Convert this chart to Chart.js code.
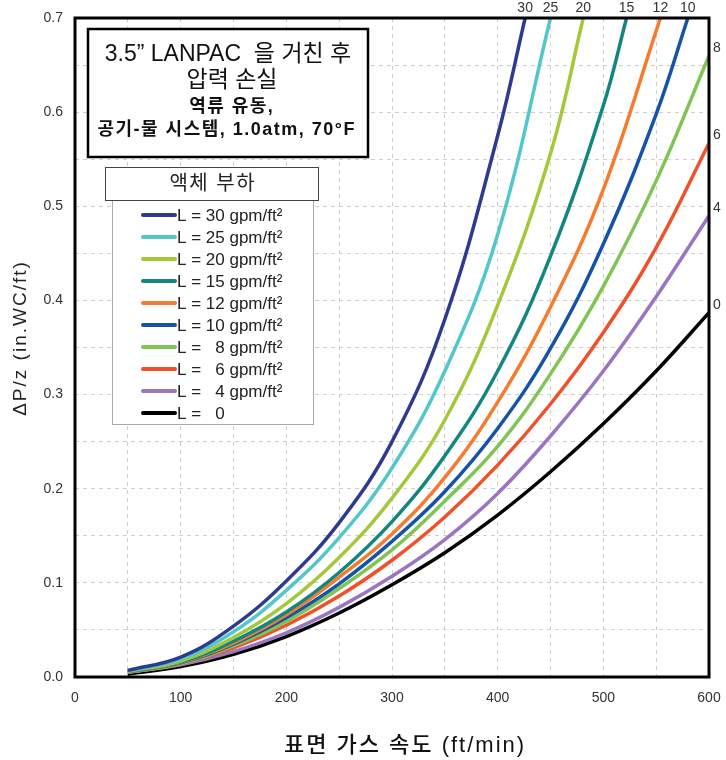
<!DOCTYPE html>
<html>
<head>
<meta charset="utf-8">
<script src="https://cdn.jsdelivr.net/npm/chart.js@4.4.0/dist/chart.umd.min.js"></script>
<style>
  html, body { margin: 0; padding: 0; background: #fff; }
  #wrap { width: 726px; height: 760px; }
</style>
</head>
<body>
<div id="wrap"><canvas id="dpChart" width="726" height="760"></canvas></div>
<script>
// gas velocity grid (ft/min)
const velocity = [50, 100, 150, 200, 250, 300, 350, 400, 450, 500, 550, 600];

// pressure drop (in.WC/ft) per liquid load
const dp30 = [0.007, 0.021, 0.054, 0.102, 0.164, 0.250, 0.380, 0.575];
const dp25 = [0.0065, 0.019, 0.048, 0.092, 0.148, 0.222, 0.325, 0.470];
const dp20 = [0.006, 0.017, 0.042, 0.078, 0.127, 0.190, 0.273, 0.395, 0.556];
const dp15 = [0.0058, 0.016, 0.038, 0.069, 0.111, 0.165, 0.235, 0.325, 0.447, 0.607];
const dp12 = [0.0055, 0.0155, 0.036, 0.066, 0.106, 0.152, 0.212, 0.292, 0.393, 0.518];
const dp10 = [0.0055, 0.015, 0.035, 0.063, 0.099, 0.144, 0.197, 0.264, 0.349, 0.460, 0.598];
const dp8 = [0.005, 0.014, 0.033, 0.059, 0.094, 0.135, 0.187, 0.245, 0.322, 0.415, 0.527, 0.660];
const dp6 = [0.005, 0.014, 0.031, 0.055, 0.086, 0.124, 0.170, 0.225, 0.290, 0.366, 0.456, 0.567];
const dp4 = [0.005, 0.013, 0.027, 0.047, 0.074, 0.107, 0.146, 0.195, 0.256, 0.325, 0.404, 0.490];
const dp0 = [0.003, 0.011, 0.024, 0.043, 0.068, 0.098, 0.132, 0.172, 0.218, 0.269, 0.325, 0.387];

// velocity where a curve leaves the top of the plot (dP/z = 0.7)
const topVelocity = [426, 450, 481, 522, 554, 580, null, null, null, null];
const curveTags = ['30', '25', '20', '15', '12', '10', '8', '6', '4', '0'];
const seriesLabels = [
  'L = 30 gpm/ft²', 'L = 25 gpm/ft²', 'L = 20 gpm/ft²', 'L = 15 gpm/ft²',
  'L = 12 gpm/ft²', 'L = 10 gpm/ft²', 'L =   8 gpm/ft²', 'L =   6 gpm/ft²',
  'L =   4 gpm/ft²', 'L =   0'
];
const seriesValues = [dp30, dp25, dp20, dp15, dp12, dp10, dp8, dp6, dp4, dp0];
const colors = ['#2e3a8e', '#52c7c9', '#a5c83a', '#13877f', '#f57b2e',
  '#1553a8', '#7fc553', '#f0512b', '#9b74c2', '#000000'];

const yMax = 0.7;
const latin = '"Liberation Sans", Arial, "Noto Sans CJK KR", sans-serif';

const datasets = seriesValues.map((vals, i) => {
  const pts = vals.map((y, k) => ({ x: velocity[k], y: y }));
  if (topVelocity[i] !== null) pts.push({ x: topVelocity[i], y: yMax });
  return {
    label: seriesLabels[i],
    data: pts,
    borderColor: colors[i],
    backgroundColor: colors[i],
    borderWidth: 3.5,
    pointRadius: 0,
    tension: 0.4,
    fill: false
  };
});

function spaced(ctx, text, x, y, gap) {
  ctx.letterSpacing = gap + 'px';
  ctx.fillText(text, x + gap / 2, y);
  ctx.letterSpacing = '0px';
}

const overlay = {
  id: 'overlay',
  afterDraw(chart) {
    const ctx = chart.ctx;
    const a = chart.chartArea;
    ctx.save();

    // curve tags at the end of each line
    ctx.font = '14px ' + latin;
    ctx.fillStyle = '#333';
    ctx.textBaseline = 'middle';
    chart.data.datasets.forEach((ds, i) => {
      const els = chart.getDatasetMeta(i).data;
      const p = els[els.length - 1];
      if (p.y <= a.top + 1) {
        ctx.textAlign = 'center';
        ctx.fillText(curveTags[i], p.x, a.top - 10);
      } else {
        ctx.textAlign = 'left';
        ctx.fillText(curveTags[i], a.right + 4, p.y - 8);
      }
    });

    // plot frame
    ctx.strokeStyle = '#000';
    ctx.lineWidth = 3;
    ctx.strokeRect(a.left, a.top, a.right - a.left, a.bottom - a.top);

    // axis titles
    ctx.textAlign = 'center';
    ctx.fillStyle = '#111';
    ctx.font = '500 22px ' + latin;
    spaced(ctx, '표면 가스 속도 (ft/min)', 404, 746, 2);
    ctx.save();
    ctx.translate(21, 339);
    ctx.rotate(-Math.PI / 2);
    ctx.fillStyle = '#222';
    ctx.font = '19px ' + latin;
    spaced(ctx, 'ΔP/z (in.WC/ft)', 0, 0, 2);
    ctx.restore();

    // title box
    ctx.fillStyle = '#fff';
    ctx.fillRect(88, 29, 280, 128);
    ctx.lineWidth = 2.5;
    ctx.strokeRect(88, 29, 280, 128);
    ctx.fillStyle = '#111';
    ctx.font = '23px ' + latin;
    ctx.fillText('3.5” LANPAC  을 거친 후', 228, 55);
    ctx.fillText('압력 손실', 232, 81);
    ctx.font = 'bold 18px ' + latin;
    spaced(ctx, '역류 유동,', 231, 107, 1.5);
    spaced(ctx, '공기-물 시스템, 1.0atm, 70°F', 226, 130, 1.5);

    // legend body
    ctx.fillStyle = '#fff';
    ctx.fillRect(112, 200, 201, 224);
    ctx.strokeStyle = '#aaa';
    ctx.lineWidth = 1;
    ctx.strokeRect(112.5, 200.5, 201, 224);
    // legend header
    ctx.fillStyle = '#fff';
    ctx.fillRect(105, 167, 213, 33);
    ctx.strokeStyle = '#444';
    ctx.strokeRect(105.5, 167.5, 213, 33);
    ctx.fillStyle = '#222';
    ctx.font = '20px ' + latin;
    spaced(ctx, '액체 부하', 212, 184, 1.5);

    ctx.font = '17px ' + latin;
    ctx.textAlign = 'left';
    chart.data.datasets.forEach((ds, i) => {
      const y = 215 + i * 22;
      ctx.strokeStyle = ds.borderColor;
      ctx.lineWidth = 4;
      ctx.lineCap = 'round';
      ctx.beginPath();
      ctx.moveTo(143, y);
      ctx.lineTo(175, y);
      ctx.stroke();
      ctx.fillStyle = '#222';
      ctx.fillText(ds.label, 177, y + 1);
    });
    ctx.restore();
  }
};

new Chart(document.getElementById('dpChart'), {
  type: 'line',
  data: { datasets: datasets },
  options: {
    responsive: false,
    animation: false,
    devicePixelRatio: 1,
    layout: { padding: { top: 18, right: 17, left: 0, bottom: 0 } },
    plugins: {
      legend: { display: false },
      tooltip: { enabled: false }
    },
    scales: {
      x: {
        type: 'linear',
        min: 0,
        max: 600,
        afterFit: (s) => { s.height = 83; s.paddingRight = 0; s.paddingLeft = 0; },
        ticks: {
          stepSize: 50,
          autoSkip: false,
          maxRotation: 0,
          padding: 13,
          color: '#333',
          font: { family: latin, size: 14 },
          callback: (v) => (v % 100 === 0 ? String(v) : '')
        },
        grid: { color: '#cfcfcf', lineWidth: 1, drawTicks: false },
        border: { display: false, dash: [4, 4] }
      },
      y: {
        min: 0,
        max: yMax,
        afterFit: (s) => { s.width = 75; s.paddingTop = 0; s.paddingBottom = 0; },
        ticks: {
          stepSize: 0.05,
          autoSkip: false,
          padding: 12,
          color: '#333',
          font: { family: latin, size: 14 },
          callback: (v) => (Math.round(v * 100) % 10 === 0 ? v.toFixed(1) : '')
        },
        grid: { color: '#cfcfcf', lineWidth: 1, drawTicks: false },
        border: { display: false, dash: [4, 4] }
      }
    }
  },
  plugins: [overlay]
});
</script>
</body>
</html>
